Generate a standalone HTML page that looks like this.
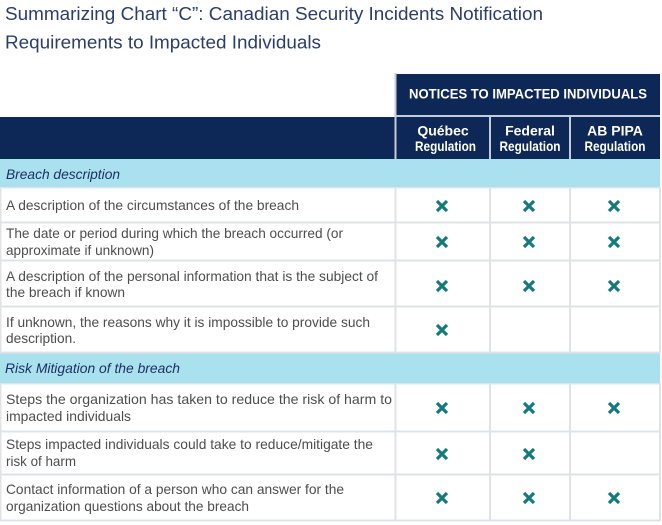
<!DOCTYPE html>
<html><head><meta charset="utf-8"><style>
html,body{margin:0;padding:0;background:#fff;}
svg{display:block;}
text{font-family:"Liberation Sans",Arial,sans-serif;}
.t{fill:#2b3d6b;font-size:18px;}
.b{fill:#4d4d4d;font-size:14px;}
.s{fill:#1b2f5e;font-size:14px;font-style:italic;}
.h{fill:#fff;font-size:14px;font-weight:bold;}
.x{stroke:#147a80;stroke-width:3.2;}
</style></head><body>
<svg width="662" height="525" viewBox="0 0 662 525" xmlns="http://www.w3.org/2000/svg">
<rect width="662" height="525" fill="#fff"/>
<text class="t" x="5" y="20" textLength="538" lengthAdjust="spacingAndGlyphs">Summarizing Chart “C”: Canadian Security Incidents Notification</text>
<text class="t" x="5" y="48.5" textLength="316" lengthAdjust="spacingAndGlyphs">Requirements to Impacted Individuals</text>

<!-- header -->
<rect x="396" y="74" width="264" height="41" fill="#0d2757"/>
<rect x="396" y="115" width="264" height="2" fill="#c3ccda"/>
<rect x="0" y="117" width="660" height="42" fill="#0d2757"/>
<rect x="394.5" y="117" width="2" height="42" fill="#c3ccda"/>
<rect x="489" y="117" width="2" height="42" fill="#c3ccda"/>
<rect x="569" y="117" width="2" height="42" fill="#c3ccda"/>
<rect x="394.5" y="73" width="2" height="44" fill="#c3ccda"/>
<text class="h" x="409" y="98.5" textLength="238" lengthAdjust="spacingAndGlyphs">NOTICES TO IMPACTED INDIVIDUALS</text>
<text class="h" x="443" y="135.5" text-anchor="middle">Québec</text>
<text class="h" x="445.5" y="151" textLength="61" lengthAdjust="spacingAndGlyphs" text-anchor="middle">Regulation</text>
<text class="h" x="530" y="135.5" text-anchor="middle">Federal</text>
<text class="h" x="530" y="151" textLength="61" lengthAdjust="spacingAndGlyphs" text-anchor="middle">Regulation</text>
<text class="h" x="615" y="135.5" text-anchor="middle">AB PIPA</text>
<text class="h" x="615" y="151" textLength="61" lengthAdjust="spacingAndGlyphs" text-anchor="middle">Regulation</text>

<!-- section bands -->
<rect x="0" y="159" width="660" height="28" fill="#a9e1ef"/>
<rect x="0" y="353" width="660" height="30" fill="#a9e1ef"/>
<text class="s" x="6" y="179" textLength="114" lengthAdjust="spacingAndGlyphs">Breach description</text>
<text class="s" x="5" y="373" textLength="175" lengthAdjust="spacingAndGlyphs">Risk Mitigation of the breach</text>

<!-- grid lines -->
<g fill="#dfe3e8">
<rect x="0" y="187" width="660" height="1.5"/>
<rect x="0" y="221.5" width="660" height="2"/>
<rect x="0" y="259.5" width="660" height="2"/>
<rect x="0" y="305.5" width="660" height="2"/>
<rect x="0" y="351.5" width="660" height="2"/>
<rect x="0" y="383" width="660" height="1.5"/>
<rect x="0" y="430.5" width="660" height="2"/>
<rect x="0" y="473.5" width="660" height="2"/>
<rect x="0" y="519.5" width="660" height="2"/>
<rect x="0" y="187" width="1.5" height="166"/>
<rect x="0" y="383" width="1.5" height="138"/>
<rect x="394.5" y="187" width="2" height="166"/>
<rect x="489" y="187" width="2" height="166"/>
<rect x="569" y="187" width="2" height="166"/>
<rect x="659" y="187" width="2" height="166"/>
<rect x="394.5" y="383" width="2" height="138"/>
<rect x="489" y="383" width="2" height="138"/>
<rect x="569" y="383" width="2" height="138"/>
<rect x="659" y="383" width="2" height="138"/>
</g>

<!-- body text -->
<text class="b" x="6" y="210" textLength="293" lengthAdjust="spacingAndGlyphs">A description of the circumstances of the breach</text>
<text class="b" x="6" y="238" textLength="337" lengthAdjust="spacingAndGlyphs">The date or period during which the breach occurred (or</text>
<text class="b" x="6" y="255" textLength="148" lengthAdjust="spacingAndGlyphs">approximate if unknown)</text>
<text class="b" x="6" y="281" textLength="372" lengthAdjust="spacingAndGlyphs">A description of the personal information that is the subject of</text>
<text class="b" x="6" y="297" textLength="119" lengthAdjust="spacingAndGlyphs">the breach if known</text>
<text class="b" x="6" y="327" textLength="364" lengthAdjust="spacingAndGlyphs">If unknown, the reasons why it is impossible to provide such</text>
<text class="b" x="6" y="343" textLength="70" lengthAdjust="spacingAndGlyphs">description.</text>
<text class="b" x="6" y="404" textLength="386" lengthAdjust="spacingAndGlyphs">Steps the organization has taken to reduce the risk of harm to</text>
<text class="b" x="6" y="421" textLength="125" lengthAdjust="spacingAndGlyphs">impacted individuals</text>
<text class="b" x="6" y="449" textLength="367" lengthAdjust="spacingAndGlyphs">Steps impacted individuals could take to reduce/mitigate the</text>
<text class="b" x="6" y="466" textLength="70" lengthAdjust="spacingAndGlyphs">risk of harm</text>
<text class="b" x="6" y="494" textLength="338" lengthAdjust="spacingAndGlyphs">Contact information of a person who can answer for the</text>
<text class="b" x="6" y="511" textLength="243" lengthAdjust="spacingAndGlyphs">organization questions about the breach</text>

<!-- X marks -->
<defs>
<g id="xm"><path class="x" d="M-5,-5 L5,5 M5,-5 L-5,5"/></g>
</defs>
<use href="#xm" x="442" y="206"/><use href="#xm" x="529" y="206"/><use href="#xm" x="614" y="206"/>
<use href="#xm" x="442" y="242"/><use href="#xm" x="529" y="242"/><use href="#xm" x="614" y="242"/>
<use href="#xm" x="442" y="286"/><use href="#xm" x="529" y="286"/><use href="#xm" x="614" y="286"/>
<use href="#xm" x="442" y="330"/>
<use href="#xm" x="442" y="408"/><use href="#xm" x="529" y="408"/><use href="#xm" x="614" y="408"/>
<use href="#xm" x="442" y="454"/><use href="#xm" x="529" y="454"/>
<use href="#xm" x="442" y="498"/><use href="#xm" x="529" y="498"/><use href="#xm" x="614" y="498"/>
</svg>
</body></html>
